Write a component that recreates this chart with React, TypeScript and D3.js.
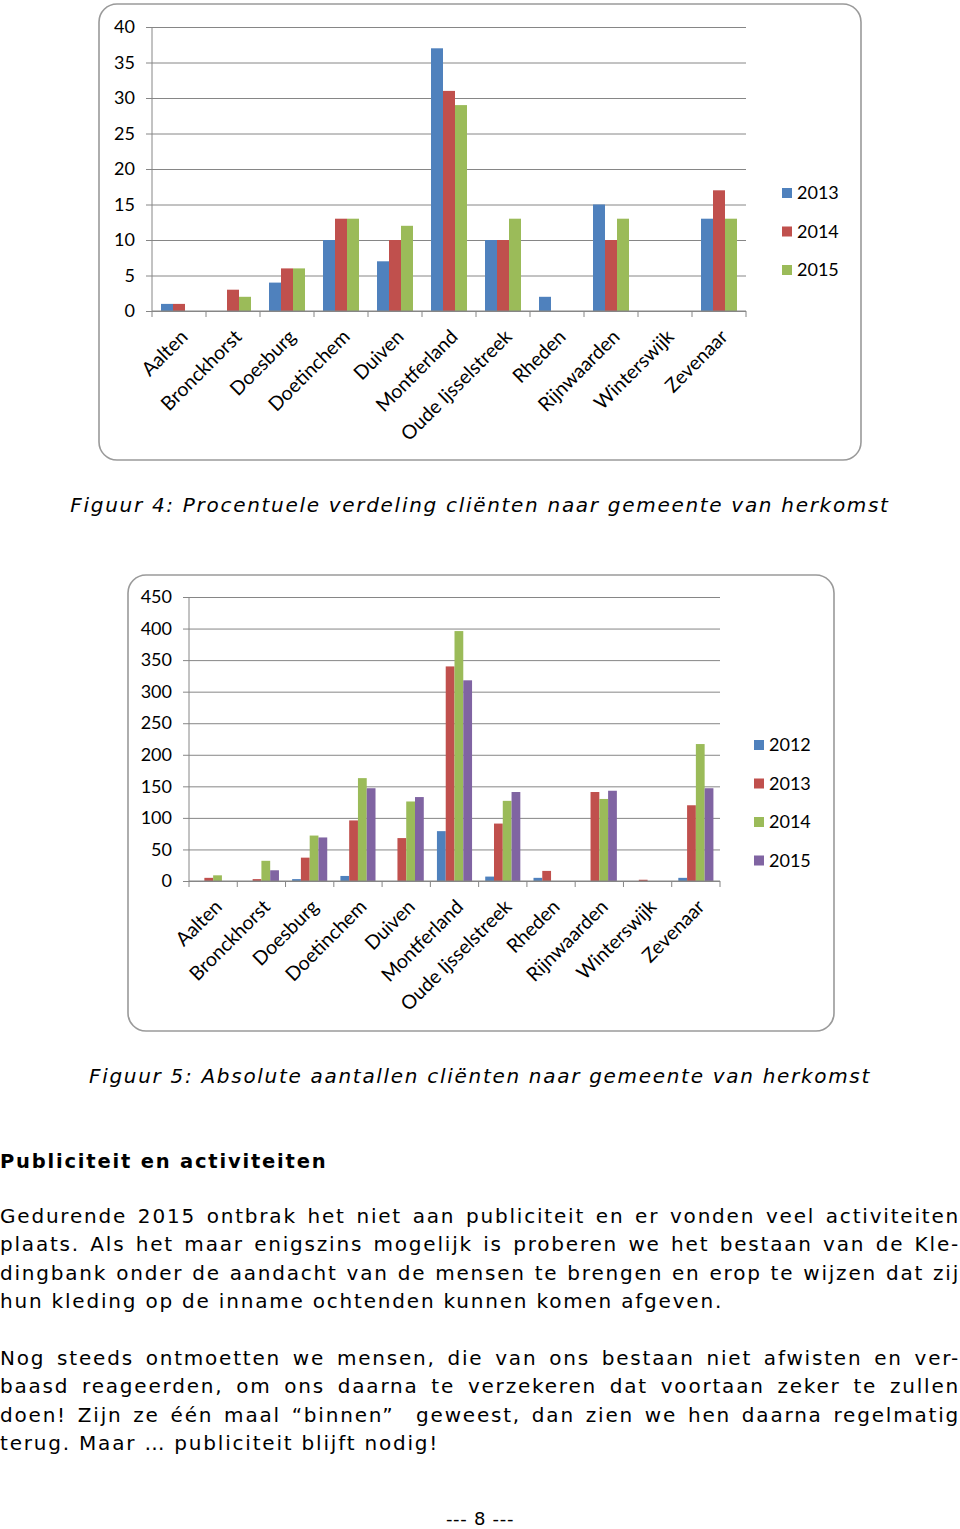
import React, { useEffect, useRef } from "react";
import * as d3 from "d3";

// gemeenten op de x-as (beide grafieken)
const towns = [
  "Aalten", "Bronckhorst", "Doesburg", "Doetinchem", "Duiven", "Montferland",
  "Oude Ijsselstreek", "Rheden", "Rijnwaarden", "Winterswijk", "Zevenaar",
];

// Figuur 4: procentuele verdeling
const pctYears = ["2013", "2014", "2015"];
const pct2013 = [1, 0, 4, 10, 7, 37, 10, 2, 15, 0, 13];
const pct2014 = [1, 3, 6, 13, 10, 31, 10, 0, 10, 0, 17];
const pct2015 = [0, 2, 6, 13, 12, 29, 13, 0, 13, 0, 13];
const pctTicks = [0, 5, 10, 15, 20, 25, 30, 35, 40];

// Figuur 5: absolute aantallen
const absYears = ["2012", "2013", "2014", "2015"];
const abs2012 = [0, 0, 3, 8, 0, 79, 7, 5, 0, 0, 5];
const abs2013 = [5, 3, 37, 96, 68, 340, 91, 16, 141, 2, 120];
const abs2014 = [9, 32, 72, 163, 126, 396, 127, 0, 130, 0, 217];
const abs2015 = [0, 17, 69, 147, 133, 318, 141, 0, 143, 0, 147];
const absTicks = [0, 50, 100, 150, 200, 250, 300, 350, 400, 450];

const colors = ["#4F81BD", "#C0504D", "#9BBB59", "#8064A2"];

const caption4 = "Figuur 4: Procentuele verdeling cliënten naar gemeente van herkomst";
const caption5 = "Figuur 5: Absolute aantallen cliënten naar gemeente van herkomst";
const heading = "Publiciteit en activiteiten";
const para1 = [
  "Gedurende 2015 ontbrak het niet aan publiciteit en er vonden veel activiteiten",
  "plaats. Als het maar enigszins mogelijk is proberen we het bestaan van de Kle-",
  "dingbank onder de aandacht van de mensen te brengen en erop te wijzen dat zij",
  "hun kleding op de inname ochtenden kunnen komen afgeven.",
];
const para2 = [
  "Nog steeds ontmoetten we mensen, die van ons bestaan niet afwisten en ver-",
  "baasd reageerden, om ons daarna te verzekeren dat voortaan zeker te zullen",
  "doen! Zijn ze één maal “binnen”  geweest, dan zien we hen daarna regelmatig",
  "terug. Maar … publiciteit blijft nodig!",
];
const footer = "--- 8 ---";

const W = 960;
const H = 1529;
const chartFont = "Lato, 'Open Sans', sans-serif";
const textFont = "'DejaVu Sans', Verdana, sans-serif";
const gridColor = "#868686";

function drawBarChart(svg: any, opts: any) {
  const { frame, plot, years, series, ticks, legend } = opts;
  const g = svg.append("g").style("font-family", chartFont);

  // kader
  g.append("rect")
    .attr("x", frame.x)
    .attr("y", frame.y)
    .attr("width", frame.w)
    .attr("height", frame.h)
    .attr("rx", 18)
    .attr("fill", "#fff")
    .attr("stroke", "#9a9a9a")
    .attr("stroke-width", 1.6);

  const x0 = d3.scaleBand().domain(towns).range([plot.left, plot.right]);
  // Excel gap width 150%
  const groupW = (x0.bandwidth() * years.length) / (years.length + 1.5);
  const x1 = d3.scaleBand().domain(years).range([0, groupW]);
  const y = d3.scaleLinear().domain([0, d3.max(ticks) as number]).range([plot.bottom, plot.top]);
  const innerW = plot.right - plot.left;

  // y-as met gridlijnen
  const yAxis = g.append("g")
    .attr("transform", `translate(${plot.left},0)`)
    .call(d3.axisLeft(y).tickValues(ticks).tickSizeInner(-innerW).tickSizeOuter(0).tickPadding(17));
  yAxis.select(".domain").remove();
  yAxis.selectAll(".tick line").attr("x1", -6).attr("x2", innerW).attr("stroke", gridColor);
  yAxis.selectAll(".tick text")
    .attr("x", -17)
    .style("font-size", "18px")
    .style("font-family", chartFont)
    .attr("fill", "#000");

  g.append("line")
    .attr("x1", plot.left).attr("x2", plot.left)
    .attr("y1", plot.top).attr("y2", plot.bottom)
    .attr("stroke", gridColor);

  // staven
  years.forEach((yr: string, si: number) => {
    g.append("g")
      .selectAll("rect")
      .data(series[si])
      .join("rect")
      .attr("x", (d: number, i: number) => (x0(towns[i]) as number) + (x0.bandwidth() - groupW) / 2 + (x1(yr) as number))
      .attr("y", (d: number) => y(d))
      .attr("width", x1.bandwidth())
      .attr("height", (d: number) => y(0) - y(d))
      .attr("fill", colors[si]);
  });

  // x-as
  g.append("line")
    .attr("x1", plot.left).attr("x2", plot.right)
    .attr("y1", plot.bottom).attr("y2", plot.bottom)
    .attr("stroke", gridColor);
  const bounds = towns.map((t) => x0(t) as number).concat([plot.right]);
  g.append("g")
    .selectAll("line")
    .data(bounds)
    .join("line")
    .attr("x1", (d: number) => d).attr("x2", (d: number) => d)
    .attr("y1", plot.bottom).attr("y2", plot.bottom + 6)
    .attr("stroke", gridColor);

  g.append("g")
    .selectAll("text")
    .data(towns)
    .join("text")
    .attr("transform", (t: string) => {
      const cx = (x0(t) as number) + x0.bandwidth() / 2 + 10;
      return `translate(${cx},${plot.bottom + 27}) rotate(-45)`;
    })
    .attr("text-anchor", "end")
    .style("font-size", "19.5px")
    .text((t: string) => t);

  // legenda
  const lg = g.append("g");
  years.forEach((yr: string, i: number) => {
    const cy = legend.y + i * 38.5;
    lg.append("rect")
      .attr("x", legend.x).attr("y", cy - 5)
      .attr("width", 10).attr("height", 10)
      .attr("fill", colors[i]);
    lg.append("text")
      .attr("x", legend.x + 15).attr("y", cy)
      .attr("dy", "0.35em")
      .style("font-size", "18px")
      .text(yr);
  });
}

function drawText(svg: any) {
  const t = svg.append("g").style("font-family", textFont).attr("fill", "#000");

  [[caption4, 512], [caption5, 1083]].forEach(([s, yy]) => {
    t.append("text")
      .attr("x", W / 2).attr("y", yy)
      .attr("text-anchor", "middle")
      .style("font-style", "italic")
      .style("font-size", "20px")
      .style("letter-spacing", "1.7px")
      .text(s);
  });

  t.append("text")
    .attr("x", 0).attr("y", 1168)
    .style("font-weight", "bold")
    .style("font-size", "19.5px")
    .style("letter-spacing", "1.8px")
    .text(heading);

  const lineH = 28.4;
  const drawPara = (lines: string[], top: number) => {
    lines.forEach((line, i) => {
      const el = t.append("text")
        .attr("x", 0).attr("y", top + i * lineH)
        .style("font-size", "20px")
        .style("letter-spacing", "1.8px")
        .style("white-space", "pre")
        .text(line);
      if (i < lines.length - 1) {
        const w = (el.node() as SVGTextElement).getComputedTextLength();
        const spaces = (line.match(/ /g) || []).length;
        if (spaces > 0) el.attr("word-spacing", (W - w) / spaces);
      }
    });
  };
  drawPara(para1, 1223);
  drawPara(para2, 1365);

  t.append("text")
    .attr("x", W / 2).attr("y", 1525)
    .attr("text-anchor", "middle")
    .style("font-size", "18px")
    .style("letter-spacing", "0.7px")
    .text(footer);
}

export default function App() {
  const ref = useRef<SVGSVGElement>(null);

  useEffect(() => {
    const svg = d3.select(ref.current);
    svg.selectAll("*").remove();
    svg.append("rect").attr("width", W).attr("height", H).attr("fill", "#fff");

    drawBarChart(svg, {
      frame: { x: 99, y: 4, w: 762, h: 456 },
      plot: { left: 152, right: 746, top: 27, bottom: 311 },
      years: pctYears,
      series: [pct2013, pct2014, pct2015],
      ticks: pctTicks,
      legend: { x: 782, y: 193 },
    });

    drawBarChart(svg, {
      frame: { x: 128, y: 575, w: 706, h: 456 },
      plot: { left: 189, right: 720, top: 597, bottom: 881 },
      years: absYears,
      series: [abs2012, abs2013, abs2014, abs2015],
      ticks: absTicks,
      legend: { x: 754, y: 745 },
    });

    drawText(svg);
  }, []);

  return (
    <svg
      ref={ref}
      width={W}
      height={H}
      style={{ position: "absolute", left: 0, top: 0 }}
    />
  );
}
